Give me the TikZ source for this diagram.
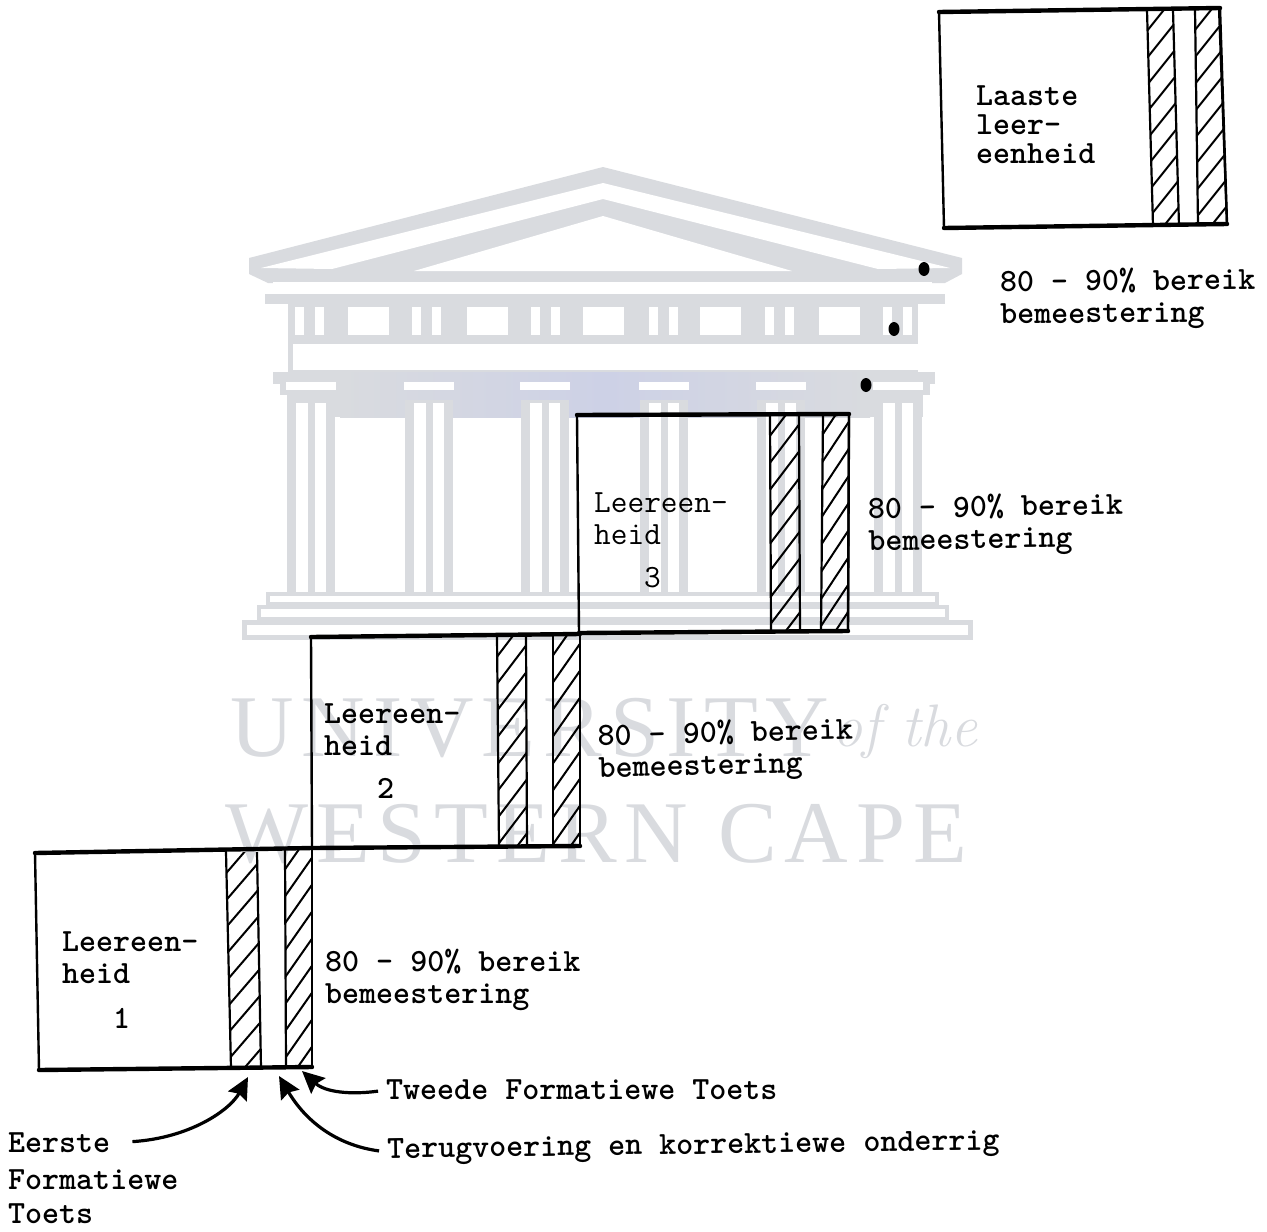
\documentclass[tikz,border=0pt]{standalone}
\usepackage{fontspec}
\usetikzlibrary{arrows.meta}

\newfontfamily\wmserif[LetterSpace=9]{Liberation Serif}

\definecolor{wmgray}{HTML}{D9DBDF}
\definecolor{wmblue}{HTML}{CDD1E6}

\tikzset{
  boxside/.style={line width=2.4pt, line cap=round},
  boxedge/.style={line width=4.4pt, line cap=round},
  striprule/.style={line width=2.2pt},
  hatchrule/.style={line width=2pt},
  wmfill/.style={fill=wmgray, draw=none},
  wmhole/.style={fill=white, draw=none},
  lbl/.style={font=\fontsize{32.4}{32}\selectfont\ttfamily\bfseries, align=left, anchor=west, inner sep=0pt},
  lblthin/.style={font=\fontsize{32.4}{32}\selectfont\ttfamily, align=left, anchor=west, inner sep=0pt},
  wmtext/.style={text=wmgray, anchor=west, inner sep=0pt},
  feedarrow/.style={line width=3.2pt, -{Stealth[length=22pt, width=21pt, inset=3pt]}, shorten <=8pt},
  stopdot/.style={fill=black, draw=none}
}

% Box with slightly skewed scan corners: top-left, top-right, bottom-right, bottom-left
\newcommand{\leerbox}[4]{
  \draw[boxside] (#1) -- (#4);
  \draw[boxside] (#2) -- (#3);
  \draw[boxedge] (#1) -- (#2);
  \draw[boxedge] (#4) -- (#3);
}

% Hatched strip: x left top, x right top, x left bottom, x right bottom, y top, y bottom
\newcommand{\hatchstrip}[6]{
  \draw[striprule] (#1,#5) -- (#3,#6);
  \draw[striprule] (#2,#5) -- (#4,#6);
  \begin{scope}
    \clip (#1,#5) -- (#2,#5) -- (#4,#6) -- (#3,#6) -- cycle;
    \foreach \k in {0,...,8}
      \draw[hatchrule] (#1-4,{#5+27*\k+26}) -- (#4+4,{#5+27*\k-24});
  \end{scope}
}

\begin{document}
\begin{tikzpicture}[x=1pt, y=-1pt]
  \useasboundingbox (0,0) rectangle (1267,1232);

  % Watermark: pediment
  \fill[wmfill] (249,258) -- (603,167) -- (962,258) -- (962,274) -- (945,283) -- (268,283) -- (249,274) -- cycle;
  \fill[wmhole] (261,268) -- (603,183) -- (950,268) -- (878,269) -- (603,199) -- (332,269) -- cycle;
  \fill[wmhole] (414,271) -- (603,216) -- (792,271) -- cycle;

  % Watermark: cornice and frieze
  \fill[wmhole] (273,282) rectangle (932,294);
  \fill[wmfill] (265,294) rectangle (945,304);
  \fill[wmfill] (288,304) rectangle (918,372);
  \foreach \wx in {348,467,583,700,819}
    \fill[wmhole] (\wx,307) rectangle ++(41,28);
  \foreach \wx in {295,412,531,649,765,883}
    \foreach \sx in {0,20}
      \fill[wmhole] (\wx+\sx,307) rectangle ++(9,28);
  \fill[wmhole] (293,344) rectangle (918,370);

  % Watermark: capitals and columns
  \fill[wmfill] (273,372) rectangle (935,384);
  \fill[wmfill] (280,384) rectangle (930,417);
  \shade[left color=wmgray, right color=wmgray, middle color=wmblue] (340,372) rectangle (870,417);
  \foreach \cx in {311,429,545,664,781,898} {
    \fill[wmhole] (\cx-25,382) rectangle (\cx+25,390);
    \fill[wmfill] (\cx-24,400) rectangle (\cx+24,592);
    \fill[wmhole] (\cx-15,403) rectangle (\cx-3,592);
    \fill[wmhole] (\cx+4,403) rectangle (\cx+15,592);
  }
  \fill[wmhole] (280,417) -- (287,417) -- (287,395) -- (280,395) -- cycle;
  \fill[wmhole] (923,417) -- (935,417) -- (935,395) -- (923,395) -- cycle;

  % Watermark: steps
  \draw[wmgray, line width=4pt] (268,594) rectangle (937,604);
  \draw[wmgray, line width=4pt] (259,607) rectangle (947,619);
  \draw[wmgray, line width=5pt] (244,622) rectangle (970,637);

  % Watermark: lettering
  \node[wmtext, font=\fontsize{88}{88}\selectfont\wmserif] (wmuni) at (230,728) {UNIVERSITY};
  \node[wmtext, font=\fontsize{60}{60}\selectfont\itshape] (wmof) at (832,731) {of the};
  \node[wmtext, font=\fontsize{88}{88}\selectfont\wmserif] (wmcape) at (225,834) {WESTERN CAPE};

  % Learning units, bottom to top
  \leerbox{35,853}{312,848}{312,1067}{39,1070}
  \hatchstrip{226}{257}{231}{261}{852}{1068}
  \hatchstrip{285}{312}{286}{312}{849}{1067}

  \leerbox{311,637}{580,634}{580,846}{312,848}
  \hatchstrip{497}{526}{499}{527}{636}{847}
  \hatchstrip{553}{580}{553}{580}{635}{846}

  \leerbox{577,415}{849,414}{848,631}{579,633}
  \hatchstrip{770}{799}{771}{800}{415}{632}
  \hatchstrip{823}{849}{821}{848}{414}{631}

  \leerbox{939,12}{1220,8}{1227,224}{944,228}
  \hatchstrip{1147}{1173}{1153}{1179}{10}{226}
  \hatchstrip{1195}{1219}{1198}{1227}{9}{225}

  % Dots between unit 3 and the last unit
  \fill[stopdot] (866,385) ellipse (5.5 and 7);
  \fill[stopdot] (894,329) ellipse (5.5 and 7);
  \fill[stopdot] (924,269) ellipse (5.5 and 7);

  % Unit names
  \node[lbl] (unitone) at (62,958) {Leereen-\\heid};
  \node[lbl] (numone) at (113,1018) {1};
  \node[lbl] (unittwo) at (324,730) {Leereen-\\heid};
  \node[lbl] (numtwo) at (377,788) {2};
  \node[lblthin] (unitthree) at (594,519) {Leereen-\\heid};
  \node[lblthin] (numthree) at (644,578) {3};
  \node[lbl, font=\fontsize{32.4}{29}\selectfont\ttfamily\bfseries] (unitlast) at (976,125) {Laaste\\leer-\\eenheid};

  % Mastery labels
  \node[lbl] (masterone) at (325,980) {80 - 90\% bereik\\bemeestering};
  \node[lbl, rotate=1.5] (mastertwo) at (598,754) {80 - 90\% bereik\\bemeestering};
  \node[lbl, rotate=1] (masterthree) at (868,527) {80 - 90\% bereik\\bemeestering};
  \node[lbl, rotate=0.5] (masterlast) at (1000,300) {80 - 90\% bereik\\bemeestering};

  % Phases under unit 1
  \node[lbl] (eerste) at (8,1143) {Eerste};
  \node[lbl] (formatiewe) at (8,1180) {Formatiewe};
  \node[lbl] (toets) at (8,1214) {Toets};
  \node[lbl] (tweede) at (386,1090) {Tweede Formatiewe Toets};
  \node[lbl, rotate=0.8] (terug) at (387,1152) {Terugvoering en korrektiewe onderrig};

  \coordinate (tipfirst) at (248,1077);
  \coordinate (tipback) at (279,1076);
  \coordinate (tipsecond) at (302,1071);

  % Arrows to the strips
  \draw[feedarrow, shorten <=22pt] (eerste.east) .. controls (190,1138) and (230,1110) .. (tipfirst);
  \draw[feedarrow] (terug.west) .. controls (335,1145) and (305,1120) .. (tipback);
  \draw[feedarrow] (tweede.west) .. controls (350,1095) and (325,1092) .. (tipsecond);
\end{tikzpicture}
\end{document}
